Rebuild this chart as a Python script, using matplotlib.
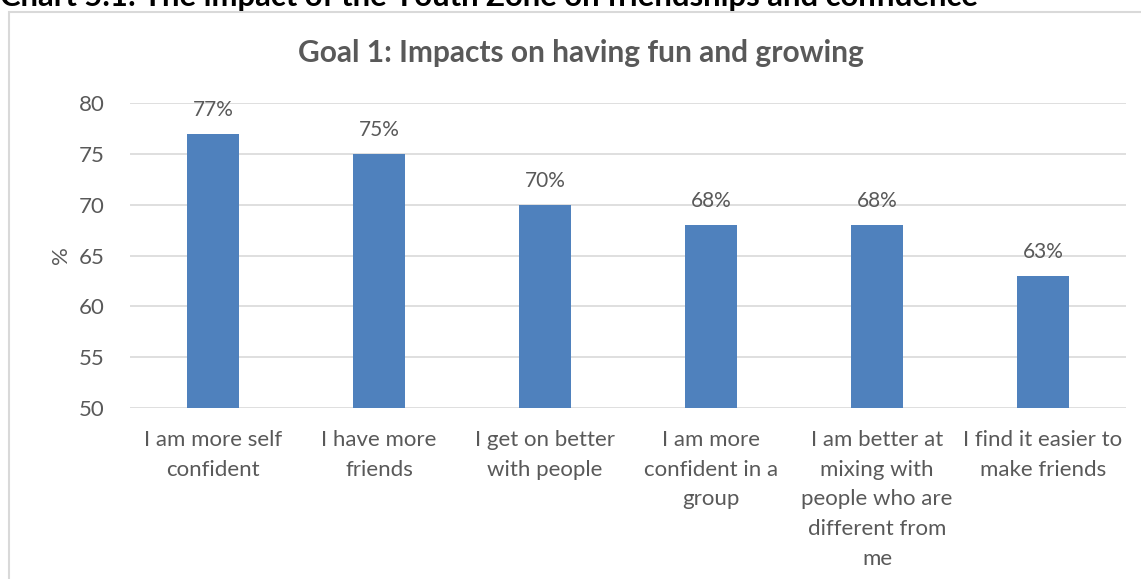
import matplotlib

matplotlib.use("Agg")
import matplotlib.pyplot as plt
from matplotlib.patches import Rectangle

categories = [
    "I am more self\nconfident",
    "I have more\nfriends",
    "I get on better\nwith people",
    "I am more\nconfident in a\ngroup",
    "I am better at\nmixing with\npeople who are\ndifferent from\nme",
    "I find it easier to\nmake friends",
]
values = [77, 75, 70, 68, 68, 63]
yticks = [50, 55, 60, 65, 70, 75, 80]

W, H = 1141, 579
GREY = "#595959"
BAR = "#4f81bd"
GRID = "#d9d9d9"

plt.rcParams["font.family"] = ["Lato", "DejaVu Sans"]

fig = plt.figure(figsize=(W / 100, H / 100), dpi=100)
fig.patch.set_facecolor("white")

# chart frame, runs off the right and bottom of the page
fig.patches.append(Rectangle((9 / W, -0.1), 1.2, 1.1 - 12 / H, transform=fig.transFigure,
                             fill=False, ec=GRID, lw=1.5))

# report heading, clipped at the top of the page
fig.text(0, 1 - 6 / H, "Chart 5.1: The impact of the Youth Zone on friendships and confidence",
         ha="left", va="baseline", fontsize=22.3, fontweight="bold", color="black")

ax = fig.add_axes([130 / W, 1 - 408 / H, (1126 - 130) / W, (408 - 103) / H])
x = range(len(values))
ax.bar(x, values, width=0.31, color=BAR, bottom=0, zorder=3)
ax.set_ylim(50, 80)
ax.set_xlim(-0.5, len(values) - 0.5)
ax.set_yticks(yticks)
ax.set_xticks(list(x))
ax.set_xticklabels(categories, fontsize=16, color=GREY, linespacing=1.6)
ax.tick_params(axis="y", labelsize=16, colors=GREY, length=0, pad=18)
ax.tick_params(axis="x", length=0, pad=16)
ax.grid(axis="y", color=GRID, lw=1.2, zorder=0)
for s in ax.spines.values():
    s.set_visible(False)
ax.set_ylabel("%", fontsize=16, color=GREY, labelpad=6)

for i, v in enumerate(values):
    ax.annotate(f"{v}%", (i, v), xytext=(0, 10), textcoords="offset points",
                ha="center", va="bottom", fontsize=15, color=GREY)

fig.text(581 / W, 1 - 53 / H, "Goal 1: Impacts on having fun and growing",
         ha="center", va="center", fontsize=21.5, fontweight="bold", color=GREY)

fig.savefig("out.png", dpi=100)
plt.close(fig)
